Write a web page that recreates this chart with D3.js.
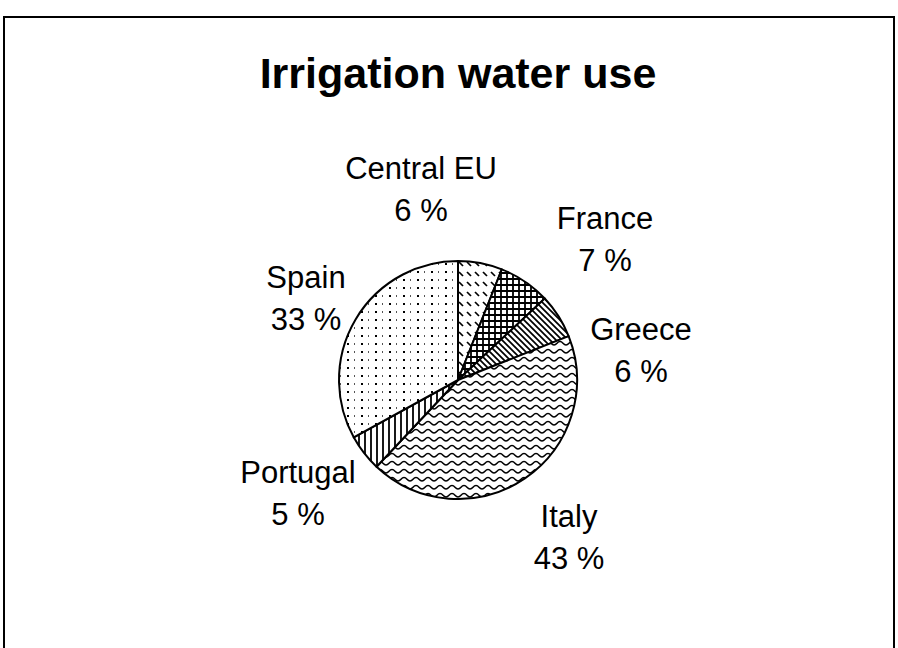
<!DOCTYPE html>
<html>
<head>
<meta charset="utf-8">
<script src="https://cdn.jsdelivr.net/npm/d3@7"></script>
<style>
  html, body { margin: 0; padding: 0; background: #fff; }
  svg { display: block; }
  text { font-family: "Liberation Sans", Arial, sans-serif; fill: #000; }
</style>
</head>
<body>
<svg id="chart" width="898" height="648"></svg>
<script>
// Share of irrigation water use by region (percent)
const regions = ["Central EU", "France", "Greece", "Italy", "Portugal", "Spain"];
const shares  = [6, 7, 6, 43, 5, 33];
const fills   = ["dashdiag", "grid", "diag", "wave", "vert", "dots"];

// label block anchor (first baseline), relative to the pie centre
const labelPos = [
  [-37, -201], [147, -151], [183, -40], [111, 147], [-160, 103], [-152, -92]
];

const W = 898, H = 648;
const cx = 458, cy = 380, R = 119;

const svg = d3.select("#chart");
const defs = svg.append("defs");

// hatch patterns
function pattern(id, w, h) {
  const p = defs.append("pattern")
    .attr("id", id).attr("patternUnits", "userSpaceOnUse")
    .attr("width", w).attr("height", h);
  p.append("rect").attr("width", w).attr("height", h).attr("fill", "#fff");
  return p;
}

let p = pattern("dashdiag", 8, 10);
p.append("line").attr("x1", 1).attr("y1", 2).attr("x2", 5).attr("y2", 6)
  .attr("stroke", "#000").attr("stroke-width", 1.7);

p = pattern("grid", 6, 6);
p.append("path").attr("d", "M1,0V6M0,1H6").attr("stroke", "#000").attr("stroke-width", 1.8);

p = pattern("diag", 6, 6);
p.append("path").attr("d", "M-1,-1L7,7M-1,5L1,7M5,-1L7,1")
  .attr("stroke", "#000").attr("stroke-width", 1.7);

p = pattern("wave", 12, 8);
p.append("path").attr("d", "M0,5 C3,5 3,1.5 6,1.5 C9,1.5 9,5 12,5")
  .attr("fill", "none").attr("stroke", "#000").attr("stroke-width", 1.5);

p = pattern("vert", 6, 6);
p.append("path").attr("d", "M3,0V6").attr("stroke", "#000").attr("stroke-width", 1.8);

p = pattern("dots", 14, 8);
p.append("rect").attr("x", 1).attr("y", 3).attr("width", 2).attr("height", 2).attr("fill", "#000");
p.append("rect").attr("x", 8).attr("y", 3).attr("width", 1).attr("height", 2).attr("fill", "#555");

// outer frame
svg.append("rect")
  .attr("x", 4).attr("y", 17).attr("width", 890).attr("height", 660)
  .attr("fill", "none").attr("stroke", "#000").attr("stroke-width", 2);

// title
svg.append("text")
  .attr("x", cx).attr("y", 88)
  .attr("text-anchor", "middle")
  .attr("font-size", 43).attr("font-weight", "bold")
  .text("Irrigation water use");

const data = regions.map((r, i) => ({ region: r, value: shares[i], fill: fills[i], lp: labelPos[i] }));

const pie = d3.pie().value(d => d.value).sort(null);
const arc = d3.arc().innerRadius(0).outerRadius(R);

const g = svg.append("g").attr("transform", `translate(${cx},${cy})`);

g.selectAll("path.slice")
  .data(pie(data))
  .join("path")
  .attr("class", "slice")
  .attr("d", arc)
  .attr("fill", d => `url(#${d.data.fill})`)
  .attr("stroke", "#000")
  .attr("stroke-width", 2)
  .attr("stroke-linejoin", "round");

const labels = g.selectAll("text.lab")
  .data(data)
  .join("text")
  .attr("class", "lab")
  .attr("text-anchor", "middle")
  .attr("font-size", 31)
  .attr("transform", d => `translate(${d.lp[0]},${d.lp[1]})`);

labels.append("tspan").attr("x", 0).attr("y", 0).text(d => d.region);
labels.append("tspan").attr("x", 0).attr("y", 42).text(d => `${d.value} %`);
</script>
</body>
</html>
